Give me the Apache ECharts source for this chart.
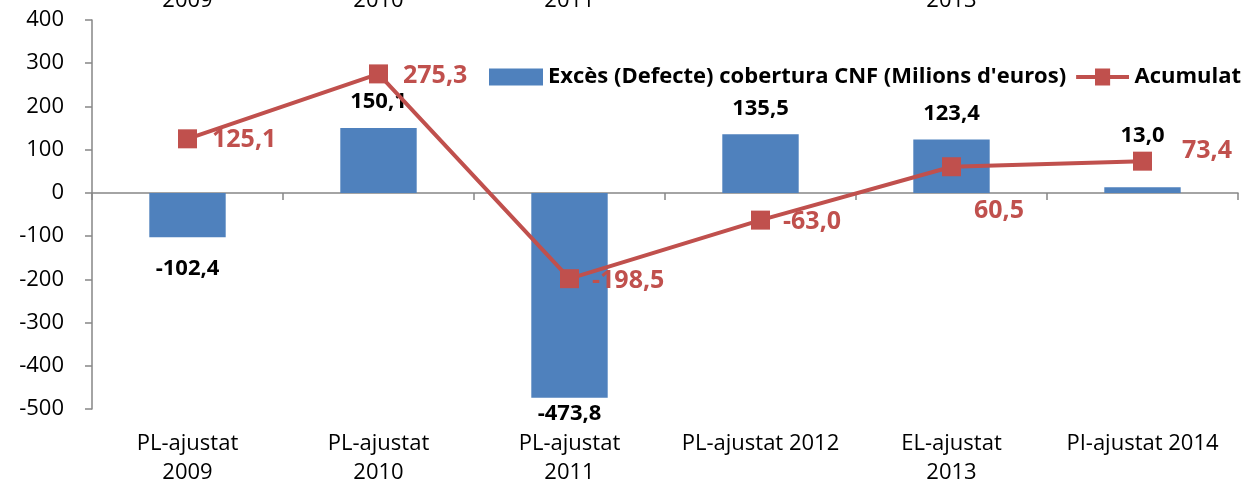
<!DOCTYPE html>
<html>
<head>
<meta charset="utf-8">
<script src="https://cdn.jsdelivr.net/npm/echarts@6/dist/echarts.min.js"></script>
<style>
  html, body { margin: 0; padding: 0; background: #fff; }
  #chart { width: 1249px; height: 487px; }
</style>
</head>
<body>
<div id="chart"></div>
<script>
// dades
const categories = ['PL-ajustat\n2009', 'PL-ajustat\n2010', 'PL-ajustat\n2011', 'PL-ajustat 2012', 'EL-ajustat\n2013', 'PI-ajustat 2014'];
const excesValues = [-102.4, 150.1, -473.8, 135.5, 123.4, 13.0];
const acumulatValues = [125.1, 275.3, -198.5, -63.0, 60.5, 73.4];
const yTicks = [-500, -400, -300, -200, -100, 0, 100, 200, 300, 400];
const topCutLabels = ['2009', '2010', '2011', '', '2013', ''];

const FONT = '"Open Sans", "Liberation Sans", sans-serif';
const BLUE = '#4F81BD';
const RED = '#C0504D';
const GREY = '#868686';

const fmt = v => v.toFixed(1).replace('.', ',');

// distancies de les etiquetes de barres (Excel les ha mogut una mica)
const barLabelDist = [21, 15, 5, 15, 15, 41];
// ajustos etiquetes de la línia
const lineLabelDist = [15, 15, 13, 13, 13, 30];
const lineLabelOffset = [[0, 1], [0, 2], [0, 2], [0, 2], [0, 44], [0, -10]];

// icona de llegenda: línia gruixuda amb quadrat
const lineIcon = 'path://M0,7L20,7L20,0L36,0L36,7L56,7L56,11L36,11L36,18L20,18L20,11L0,11Z';

const chart = echarts.init(document.getElementById('chart'));

const barData = excesValues.map((v, i) => ({
	value: v,
	label: { position: v < 0 ? 'bottom' : 'top', distance: barLabelDist[i] }
}));

const lineData = acumulatValues.map((v, i) => ({
	value: v,
	label: { distance: lineLabelDist[i], offset: lineLabelOffset[i] }
}));

chart.setOption({
	animation: false,
	textStyle: { fontFamily: FONT },
	grid: { left: 92, right: 11, top: 20, bottom: 77, containLabel: false },
	legend: {
		left: 484,
		top: 61,
		itemGap: 10,
		itemWidth: 54,
		itemHeight: 17,
		textStyle: { fontFamily: FONT, fontSize: 22, fontWeight: 'bold', color: '#000' },
		data: [
			{ name: "Excès (Defecte) cobertura CNF (Milions d'euros)", icon: 'rect' },
			{ name: 'Acumulat', icon: lineIcon }
		]
	},
	xAxis: [
		{
			type: 'category',
			data: categories,
			position: 'bottom',
			axisLine: { show: false, onZero: false },
			axisTick: { show: false },
			axisLabel: { fontFamily: FONT, fontSize: 22, color: '#000', margin: 20, lineHeight: 29, interval: 0 }
		},
		{
			type: 'category',
			data: categories,
			position: 'top',
			axisLine: { show: true, onZero: true, lineStyle: { color: GREY, width: 1.5 } },
			axisTick: { show: true, inside: true, length: 7, lineStyle: { color: GREY, width: 1.5 } },
			axisLabel: { show: false }
		}
	],
	yAxis: {
		type: 'value',
		min: yTicks[0],
		max: yTicks[yTicks.length - 1],
		interval: 100,
		splitLine: { show: false },
		axisLine: { show: true, lineStyle: { color: GREY, width: 1.5 } },
		axisTick: { show: true, length: 7, lineStyle: { color: GREY, width: 1.5 } },
		axisLabel: { fontFamily: FONT, fontSize: 22, color: '#000', margin: 28 }
	},
	series: [
		{
			name: "Excès (Defecte) cobertura CNF (Milions d'euros)",
			type: 'bar',
			xAxisIndex: 0,
			barWidth: '40%',
			itemStyle: { color: BLUE },
			label: {
				show: true,
				fontFamily: FONT,
				fontSize: 22,
				fontWeight: 'bold',
				color: '#000',
				formatter: p => fmt(p.value)
			},
			data: barData,
			z: 2
		},
		{
			name: 'Acumulat',
			type: 'line',
			xAxisIndex: 0,
			symbol: 'rect',
			symbolSize: 19,
			lineStyle: { color: RED, width: 4 },
			itemStyle: { color: RED },
			label: {
				show: true,
				position: 'right',
				fontFamily: FONT,
				fontSize: 25,
				fontWeight: 'bold',
				color: RED,
				formatter: p => fmt(p.value)
			},
			data: lineData,
			z: 3
		}
	]
});

// restes d'etiquetes retallades a la vora superior
const cutGraphics = [];
topCutLabels.forEach((t, i) => {
	if (!t) return;
	const x = chart.convertToPixel({ xAxisIndex: 0 }, i);
	cutGraphics.push({
		type: 'text',
		x: x,
		y: 12,
		style: { text: t, fontFamily: FONT, fontSize: 22, fill: '#000', align: 'center', verticalAlign: 'bottom' }
	});
});
chart.setOption({ graphic: cutGraphics });
</script>
</body>
</html>
